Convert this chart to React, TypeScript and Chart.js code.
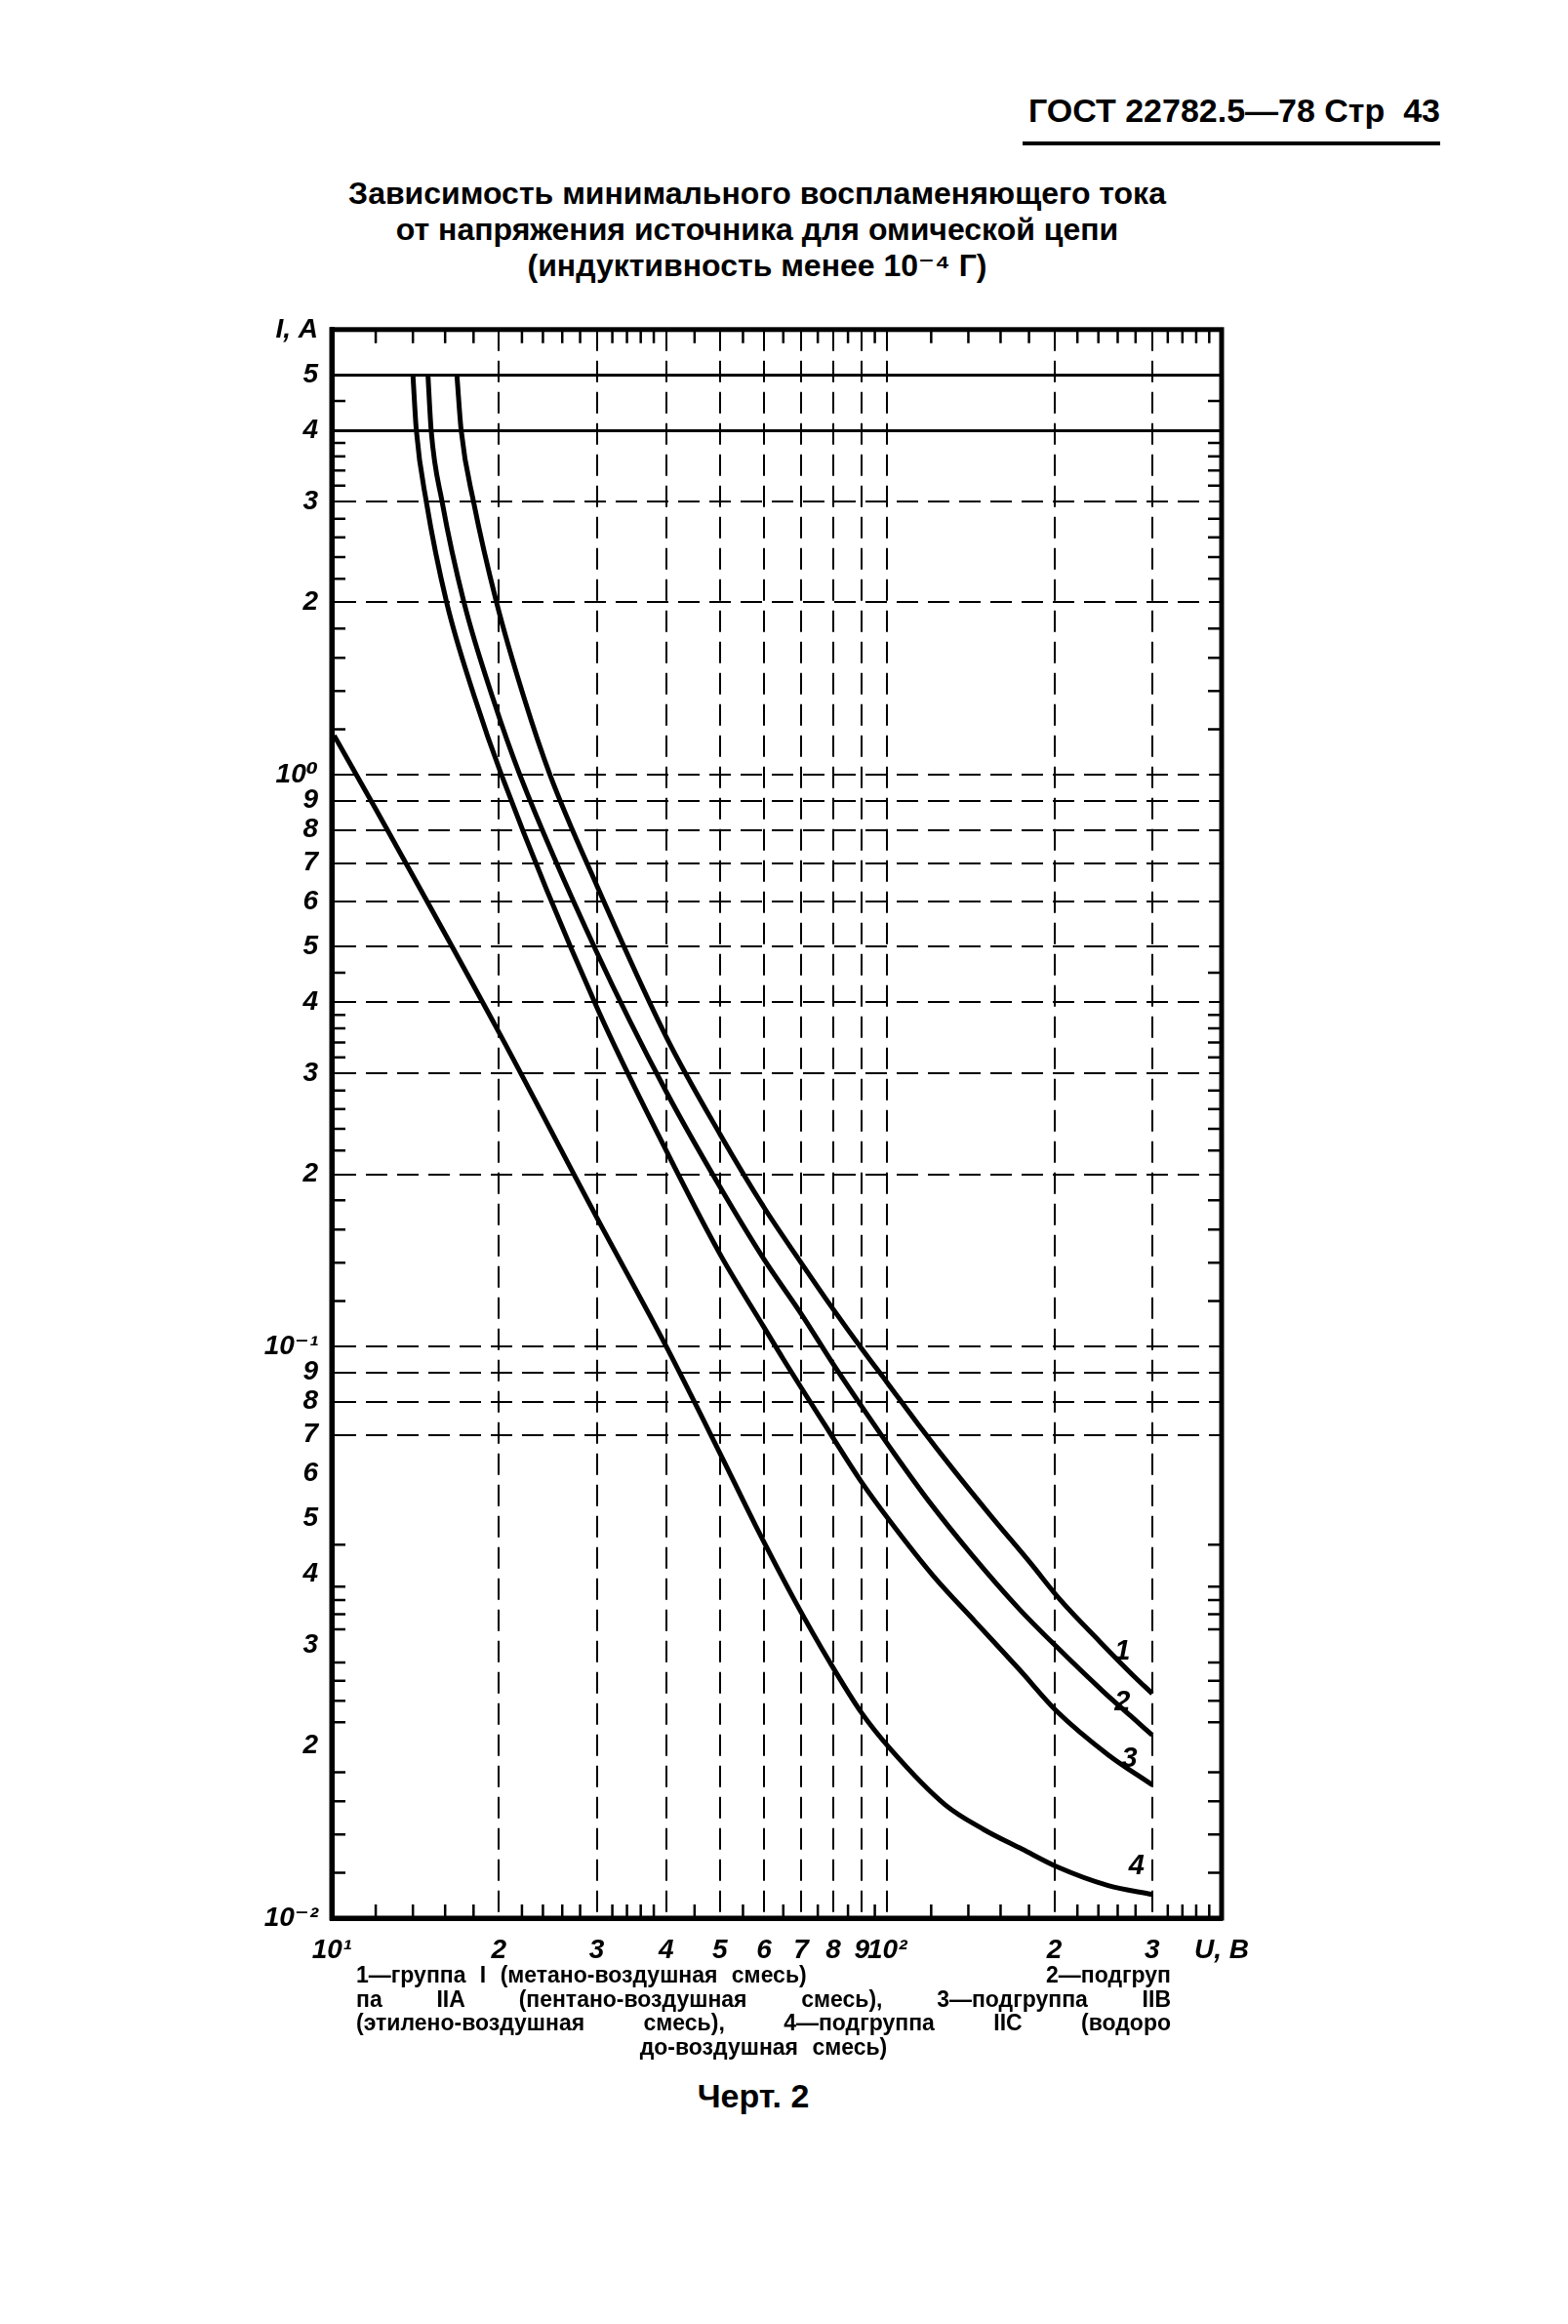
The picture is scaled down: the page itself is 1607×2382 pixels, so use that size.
import React, { useEffect, useRef } from "react";
import { Chart, registerables } from "chart.js";

Chart.register(...registerables);

// ---- data: source voltage U (V) vs. minimum igniting current I (A) ----
const CURVE1_U = [16.8, 17.1, 18.0, 19.8, 22.2, 24.7, 30, 40, 50, 60, 70, 80, 90, 100, 114, 132, 154, 181, 205, 241, 278, 300];
const CURVE1_I = [5, 4, 3, 2, 1.36, 1.0, 0.64, 0.348, 0.235, 0.175, 0.14, 0.116, 0.099, 0.0864, 0.0728, 0.0606, 0.0504, 0.0418, 0.036, 0.0305, 0.0265, 0.0247];

const CURVE2_U = [14.9, 15.1, 15.8, 17.3, 19.5, 21.8, 30, 40, 50, 60, 70, 80, 89.8, 103, 119, 142, 173, 202, 245, 274, 300];
const CURVE2_I = [5, 4, 3, 2, 1.36, 1.0, 0.489, 0.279, 0.19, 0.142, 0.114, 0.093, 0.0787, 0.0649, 0.0535, 0.0432, 0.0347, 0.0298, 0.0249, 0.0226, 0.0209];

const CURVE3_U = [14.0, 14.2, 14.8, 16.1, 18.1, 20.2, 30, 40, 50, 60, 65, 78.7, 89.8, 101.6, 121, 144, 173, 202, 250, 300];
const CURVE3_I = [5, 4, 3, 2, 1.36, 1.0, 0.392, 0.22, 0.145, 0.108, 0.095, 0.0708, 0.058, 0.0492, 0.0397, 0.033, 0.0272, 0.023, 0.0193, 0.0171];

const CURVE4_U = [10.1, 12, 20, 30, 40, 50, 58, 68.4, 78.7, 89.8, 101.6, 127, 149, 175, 202, 250, 300];
const CURVE4_I = [1.17, 0.87, 0.354, 0.168, 0.1, 0.065, 0.0485, 0.0357, 0.0281, 0.0229, 0.0197, 0.0158, 0.0143, 0.0132, 0.0123, 0.0114, 0.011];

const CURVES_U = [CURVE1_U, CURVE2_U, CURVE3_U, CURVE4_U];
const CURVES_I = [CURVE1_I, CURVE2_I, CURVE3_I, CURVE4_I];
const CURVE_NAMES = ["1", "2", "3", "4"];
const CURVE_LABEL_U = [265, 265, 273, 281];
const CURVE_LABEL_I = [0.0292, 0.0238, 0.019, 0.0123];

// ---- axes ----
const X_MIN = 10;
const X_MAX = 400;
const Y_MIN = 0.01;
const Y_MAX = 6;

const X_TICKS = [10, 20, 30, 40, 50, 60, 70, 80, 90, 100, 200, 300, 400];
const X_TICK_LABELS = ["10¹", "2", "3", "4", "5", "6", "7", "8", "9", "10²", "2", "3", "U, В"];

const Y_TICKS = [0.01, 0.02, 0.03, 0.04, 0.05, 0.06, 0.07, 0.08, 0.09, 0.1, 0.2, 0.3, 0.4, 0.5, 0.6, 0.7, 0.8, 0.9, 1, 2, 3, 4, 5, 6];
const Y_TICK_LABELS = ["10⁻²", "2", "3", "4", "5", "6", "7", "8", "9", "10⁻¹", "2", "3", "4", "5", "6", "7", "8", "9", "10⁰", "2", "3", "4", "5", "I, A"];

const Y_SOLID_LINES = [4, 5];
const Y_DASHED_LINES = [0.07, 0.08, 0.09, 0.1, 0.2, 0.3, 0.4, 0.5, 0.6, 0.7, 0.8, 0.9, 1, 2, 3];
const X_GRID_LINES = [20, 30, 40, 50, 60, 70, 80, 90, 100, 200, 300];

const X_MINOR = [12, 14, 16, 18, 22, 24, 26, 28, 32, 34, 36, 38, 45, 55, 65, 75, 85, 95, 120, 140, 160, 180, 220, 240, 260, 280, 320, 340, 360, 380];
const Y_MINOR = [
  0.012, 0.014, 0.016, 0.018, 0.022, 0.024, 0.026, 0.028, 0.032, 0.034, 0.036, 0.038, 0.045,
  0.12, 0.14, 0.16, 0.18, 0.22, 0.24, 0.26, 0.28, 0.32, 0.34, 0.36, 0.38, 0.45,
  1.2, 1.4, 1.6, 1.8, 2.2, 2.4, 2.6, 2.8, 3.2, 3.4, 3.6, 3.8, 4.5,
];

const LABEL_FONT = { family: "'Liberation Sans', 'DejaVu Sans', sans-serif", size: 28, style: "italic" as const, weight: "bold" as const };

const decorPlugin = {
  id: "decor",
  afterDatasetsDraw(chart: any) {
    const { ctx, chartArea: a, scales } = chart;
    const x = scales.x;
    const y = scales.y;
    ctx.save();
    ctx.strokeStyle = "#000";
    ctx.lineWidth = 2.5;
    ctx.beginPath();
    for (const v of X_MINOR) {
      const px = x.getPixelForValue(v);
      ctx.moveTo(px, a.bottom);
      ctx.lineTo(px, a.bottom - 14);
      ctx.moveTo(px, a.top);
      ctx.lineTo(px, a.top + 14);
    }
    for (const v of Y_MINOR) {
      const py = y.getPixelForValue(v);
      ctx.moveTo(a.left, py);
      ctx.lineTo(a.left + 14, py);
      ctx.moveTo(a.right, py);
      ctx.lineTo(a.right - 14, py);
    }
    ctx.stroke();
    ctx.lineWidth = 5;
    ctx.strokeRect(a.left, a.top, a.right - a.left, a.bottom - a.top);
    ctx.fillStyle = "#000";
    ctx.font = "italic bold 29px 'Liberation Sans', sans-serif";
    ctx.textAlign = "center";
    ctx.textBaseline = "middle";
    CURVE_NAMES.forEach((n, i) => {
      ctx.fillText(n, x.getPixelForValue(CURVE_LABEL_U[i]), y.getPixelForValue(CURVE_LABEL_I[i]));
    });
    ctx.restore();
  },
};

function ChartCanvas() {
  const ref = useRef<HTMLCanvasElement | null>(null);
  useEffect(() => {
    if (!ref.current) return;
    const datasets = CURVES_U.map((us, k) => ({
      label: CURVE_NAMES[k],
      data: us.map((u, i) => ({ x: u, y: CURVES_I[k][i] })),
      borderColor: "#000",
      borderWidth: 5,
      pointRadius: 0,
      fill: false,
      cubicInterpolationMode: "monotone" as const,
    }));
    const chart = new Chart(ref.current, {
      type: "line",
      data: { datasets },
      plugins: [decorPlugin],
      options: {
        animation: false,
        responsive: false,
        maintainAspectRatio: false,
        layout: { padding: { top: 30, right: 60, bottom: 0, left: 0 } },
        plugins: { legend: { display: false }, tooltip: { enabled: false } },
        scales: {
          x: {
            type: "logarithmic",
            position: "bottom",
            min: X_MIN,
            max: X_MAX,
            bounds: "data",
            afterBuildTicks: (s: any) => {
              s.ticks = X_TICKS.map((v) => ({ value: v }));
            },
            afterFit: (s: any) => {
              s.height = 60;
            },
            ticks: {
              autoSkip: false,
              maxRotation: 0,
              minRotation: 0,
              padding: 16,
              color: "#000",
              font: LABEL_FONT,
              callback: (v: any) => {
                const i = X_TICKS.indexOf(Number(v));
                return i >= 0 ? X_TICK_LABELS[i] : "";
              },
            },
            grid: {
              drawTicks: false,
              lineWidth: 2,
              color: (c: any) => (c.tick && X_GRID_LINES.includes(c.tick.value) ? "#000" : "rgba(0,0,0,0)"),
            },
            border: { display: true, color: "#000", width: 5, dash: [22, 10] },
          },
          y: {
            type: "logarithmic",
            position: "left",
            min: Y_MIN,
            max: Y_MAX,
            bounds: "data",
            afterBuildTicks: (s: any) => {
              s.ticks = Y_TICKS.map((v) => ({ value: v }));
            },
            afterFit: (s: any) => {
              s.width = 140;
            },
            ticks: {
              autoSkip: false,
              padding: 14,
              color: "#000",
              font: LABEL_FONT,
              callback: (v: any) => {
                const i = Y_TICKS.indexOf(Number(v));
                return i >= 0 ? Y_TICK_LABELS[i] : "";
              },
            },
            grid: {
              drawTicks: false,
              lineWidth: (c: any) => (c.tick && Y_SOLID_LINES.includes(c.tick.value) ? 3 : 2),
              color: (c: any) =>
                c.tick && (Y_SOLID_LINES.includes(c.tick.value) || Y_DASHED_LINES.includes(c.tick.value))
                  ? "#000"
                  : "rgba(0,0,0,0)",
            },
            border: {
              display: true,
              color: "#000",
              width: 5,
              dash: (c: any) => (c.tick && Y_DASHED_LINES.includes(c.tick.value) ? [22, 10] : []),
            },
          },
        },
      } as any,
    });
    return () => chart.destroy();
  }, []);
  return (
    <canvas
      ref={ref}
      width={1112}
      height={1719}
      style={{ position: "absolute", left: 200, top: 307, width: 1112, height: 1719, display: "block" }}
    />
  );
}

const HEADER = "ГОСТ 22782.5—78 Стр  43";
const TITLE_LINES = [
  "Зависимость минимального воспламеняющего тока",
  "от напряжения источника для омической цепи",
  "(индуктивность менее 10⁻⁴ Г)",
];
const CAPTION_FIRST_LEFT = "1—группа I (метано-воздушная смесь)";
const CAPTION_FIRST_RIGHT = "2—подгруп";
const CAPTION_JUSTIFIED = [
  "па IIA (пентано-воздушная смесь), 3—подгруппа IIB",
  "(этилено-воздушная смесь), 4—подгруппа IIC (водоро",
];
const CAPTION_LAST = "до-воздушная смесь)";
const FIGURE_NAME = "Черт. 2";

export default function App() {
  const sans = "'Liberation Sans', 'DejaVu Sans', sans-serif";
  return (
    <div style={{ position: "absolute", left: 0, top: 0, width: 1607, height: 2382, background: "#fff", color: "#000", fontFamily: sans }}>
      <div style={{ position: "absolute", left: 1000, top: 94, width: 476, fontSize: 34, fontWeight: "bold", lineHeight: "38px", whiteSpace: "pre", textAlign: "right" }}>
        {HEADER}
      </div>
      <div style={{ position: "absolute", left: 1048, top: 145, width: 428, height: 4, background: "#000" }} />
      <div style={{ position: "absolute", left: 0, top: 180, width: 1552, textAlign: "center", fontSize: 32, fontWeight: "bold", lineHeight: "37px" }}>
        {TITLE_LINES.map((t, i) => (
          <div key={i}>{t}</div>
        ))}
      </div>
      <ChartCanvas />
      <div style={{ position: "absolute", left: 365, top: 2012, width: 835, fontSize: 23, fontWeight: "bold", lineHeight: "24.5px", wordSpacing: 8 }}>
        <div style={{ display: "flex", justifyContent: "space-between", whiteSpace: "pre" }}>
          <span>{CAPTION_FIRST_LEFT}</span>
          <span>{CAPTION_FIRST_RIGHT}</span>
        </div>
        {CAPTION_JUSTIFIED.map((t, i) => (
          <div key={i} style={{ textAlign: "justify", textAlignLast: "justify" }}>{t}</div>
        ))}
        <div style={{ textAlign: "center" }}>{CAPTION_LAST}</div>
      </div>
      <div style={{ position: "absolute", left: 0, top: 2127, width: 1544, textAlign: "center", fontSize: 34, fontWeight: "bold", lineHeight: "42px" }}>
        {FIGURE_NAME}
      </div>
    </div>
  );
}
